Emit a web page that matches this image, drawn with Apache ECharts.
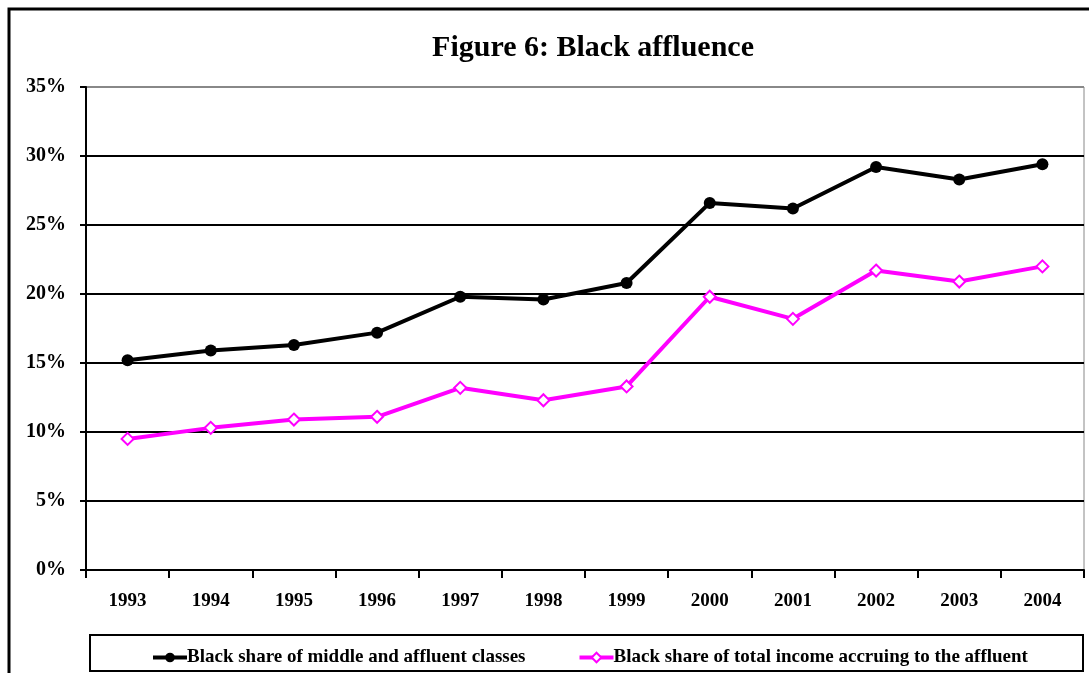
<!DOCTYPE html>
<html>
<head>
<meta charset="utf-8">
<script src="https://cdn.jsdelivr.net/npm/echarts@6/dist/echarts.min.js"></script>
<style>
    html, body{
        margin: 0;
        padding: 0;
        background: #fff;
    }
    #chart{
        width: 1089px;
        height: 673px;
    }
</style>
</head>
<body>
<div id="chart"></div>
<script>
    // data
    var years = ['1993', '1994', '1995', '1996', '1997', '1998', '1999', '2000', '2001', '2002', '2003', '2004'];
    var middleAffluent = [15.2, 15.9, 16.3, 17.2, 19.8, 19.6, 20.8, 26.6, 26.2, 29.2, 28.3, 29.4];
    var incomeAffluent = [9.5, 10.3, 10.9, 11.1, 13.2, 12.3, 13.3, 19.8, 18.2, 21.7, 20.9, 22.0];
    var yTicks = [0, 5, 10, 15, 20, 25, 30, 35];

    var seriesNames = ['Black share of middle and affluent classes', 'Black share of total income accruing to the affluent'];
    var serif = '"Liberation Serif", "Times New Roman", serif';

    var chart = echarts.init(document.getElementById('chart'));
    var option = {
        animation: false,
        title: {
            text: 'Figure 6: Black affluence',
            left: 588,
            textAlign: 'center',
            top: 28,
            textStyle: {
                fontFamily: serif,
                fontWeight: 'bold',
                fontSize: 30,
                color: '#000'
            }
        },
        graphic: [
            {   // outer frame, runs off the right and bottom edges
                type: 'rect',
                shape: {x: 9, y: 9, width: 1100, height: 700},
                style: {fill: 'none', stroke: '#000', lineWidth: 3},
                z: -1
            },
            {   // legend box
                type: 'rect',
                shape: {x: 90, y: 635, width: 993, height: 36},
                style: {fill: 'none', stroke: '#000', lineWidth: 2},
                z: -1
            }
        ],
        legend: {
            data: seriesNames,
            left: 146,
            top: 643,
            itemGap: 52,
            itemWidth: 34,
            itemHeight: 12,
            lineStyle: {width: 4},
            textStyle: {
                fontFamily: serif,
                fontWeight: 'bold',
                fontSize: 19,
                color: '#000',
                padding: [0, 0, 0, -5]
            }
        },
        grid: {
            left: 86,
            right: 5,
            top: 87,
            bottom: 103,
            show: true,
            borderColor: '#888',
            borderWidth: 1
        },
        xAxis: {
            type: 'category',
            data: years,
            boundaryGap: true,
            axisLine: {lineStyle: {color: '#000', width: 2}},
            axisTick: {show: true, length: 8, lineStyle: {color: '#000', width: 2}},
            axisLabel: {
                margin: 22,
                fontFamily: serif,
                fontWeight: 'bold',
                fontSize: 19,
                color: '#000'
            }
        },
        yAxis: {
            type: 'value',
            min: yTicks[0],
            max: yTicks[yTicks.length - 1],
            interval: 5,
            axisLine: {show: true, lineStyle: {color: '#000', width: 2}},
            axisTick: {show: true, length: 6, lineStyle: {color: '#000', width: 2}},
            axisLabel: {
                margin: 20,
                fontFamily: serif,
                fontWeight: 'bold',
                fontSize: 20,
                color: '#000',
                formatter: '{value}%'
            },
            splitLine: {
                lineStyle: {
                    color: ['#000', '#000', '#000', '#000', '#000', '#000', '#000', '#888'],
                    width: 2
                }
            }
        },
        series: [
            {
                name: seriesNames[0],
                type: 'line',
                data: middleAffluent,
                symbol: 'circle',
                symbolSize: 12,
                itemStyle: {color: '#000'},
                lineStyle: {color: '#000', width: 4}
            },
            {
                name: seriesNames[1],
                type: 'line',
                data: incomeAffluent,
                symbol: 'diamond',
                symbolSize: 12,
                itemStyle: {color: '#fff', borderColor: '#ff00ff', borderWidth: 2},
                lineStyle: {color: '#ff00ff', width: 4}
            }
        ]
    };
    chart.setOption(option);
</script>
</body>
</html>
